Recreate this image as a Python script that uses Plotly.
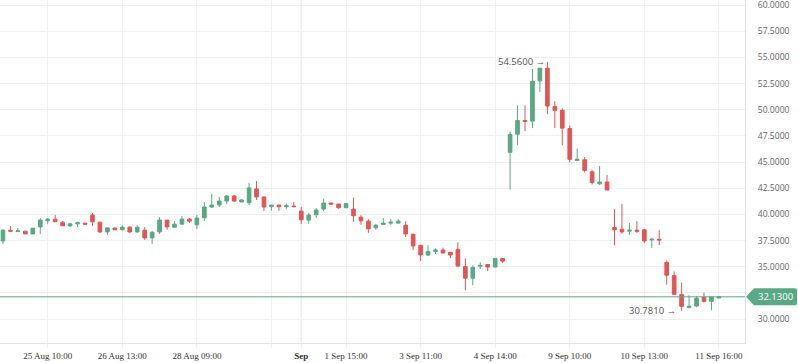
import plotly.graph_objects as go

opens = [37.47, 38.49, 38.37, 38.40, 38.14, 38.81, 39.39, 39.55, 39.26, 38.91,
         39.10, 39.17, 39.94, 39.26, 38.33, 38.69, 38.53, 38.78, 38.33, 38.49,
         37.76, 38.33, 39.46, 38.78, 39.07, 39.55, 39.01, 39.68, 40.71, 40.90,
         41.28, 41.76, 41.19, 41.12, 42.44, 41.67, 40.74, 40.90, 40.74, 40.80,
         40.32, 39.46, 39.97, 40.51, 41.09, 40.99, 40.64, 40.51, 39.74, 39.36,
         38.72, 39.04, 39.17, 39.17, 38.97, 38.11, 37.05, 36.12, 36.47, 36.60,
         36.38, 36.67, 35.03, 33.91, 35.06, 35.22, 34.97, 35.80, 45.93, 47.66,
         48.97, 48.91, 52.76, 53.97, 50.32, 49.94, 48.21, 45.16, 45.22, 44.07,
         42.92, 43.09, 38.75, 38.59, 38.40, 38.49, 38.53, 37.56, 37.63, 35.42,
         34.17, 32.34, 31.12, 31.25, 32.08, 31.70, 32.02]
highs = [38.59, 38.88, 38.69, 38.42, 38.69, 39.65, 39.65, 39.94, 39.36, 39.20,
         39.30, 39.17, 40.13, 39.26, 38.72, 38.78, 38.97, 38.88, 38.97, 38.78,
         38.40, 39.74, 39.46, 39.36, 39.84, 39.65, 39.94, 41.19, 41.96, 41.67,
         41.86, 41.86, 41.47, 43.01, 43.19, 41.70, 40.90, 40.90, 41.03, 41.19,
         40.71, 40.13, 40.61, 41.51, 41.09, 40.99, 41.09, 41.60, 39.94, 39.55,
         39.07, 39.65, 39.55, 39.55, 39.36, 38.11, 37.05, 37.05, 36.76, 36.83,
         36.38, 37.34, 35.80, 35.13, 35.42, 35.22, 35.80, 35.80, 47.92, 50.42,
         50.42, 53.88, 53.97, 54.56, 50.80, 50.13, 48.49, 46.28, 45.48, 44.26,
         44.62, 43.76, 40.51, 40.99, 39.17, 39.36, 38.62, 37.72, 38.49, 35.61,
         34.55, 33.49, 32.28, 32.21, 32.53, 32.12, 32.13]
lows = [37.18, 38.30, 38.33, 38.14, 38.14, 38.11, 39.10, 39.30, 38.91, 38.81,
        38.81, 39.01, 38.91, 38.24, 38.05, 38.53, 38.53, 38.24, 38.24, 37.56,
        37.18, 38.14, 38.53, 38.78, 39.07, 39.17, 38.59, 39.36, 40.61, 40.71,
        40.99, 41.19, 41.19, 40.90, 41.38, 40.32, 40.35, 40.35, 40.54, 40.74,
        39.10, 39.10, 39.68, 40.32, 40.90, 40.54, 40.64, 39.30, 39.01, 38.24,
        38.53, 39.04, 39.01, 39.13, 37.85, 36.60, 35.55, 36.03, 36.22, 36.31,
        35.83, 35.06, 32.76, 33.24, 34.78, 34.58, 34.97, 35.35, 42.37, 46.60,
        47.95, 48.24, 51.70, 49.58, 48.24, 46.60, 44.97, 45.10, 44.01, 42.85,
        42.81, 42.33, 37.08, 38.14, 38.05, 38.24, 37.28, 36.79, 37.08, 33.30,
        32.37, 30.781, 31.03, 31.15, 31.60, 30.85, 32.00]
closes = [38.49, 38.40, 38.43, 38.14, 38.69, 39.46, 39.55, 39.30, 38.91, 39.10,
          39.20, 39.07, 39.30, 38.33, 38.72, 38.53, 38.78, 38.33, 38.78, 37.76,
          38.30, 39.46, 38.81, 39.07, 39.55, 39.36, 39.65, 40.71, 40.90, 41.28,
          41.76, 41.28, 41.38, 42.53, 41.67, 40.71, 40.90, 40.74, 40.83, 40.74,
          39.49, 39.94, 40.42, 41.09, 40.99, 40.64, 41.03, 39.87, 39.39, 38.62,
          38.97, 39.17, 39.26, 39.36, 38.14, 36.99, 36.12, 36.47, 36.60, 36.31,
          36.12, 35.06, 33.91, 34.94, 35.13, 34.97, 35.80, 35.54, 47.63, 48.97,
          48.88, 52.72, 53.97, 50.35, 49.94, 48.24, 45.26, 45.26, 44.20, 43.05,
          43.09, 42.33, 38.53, 38.33, 38.49, 38.40, 37.47, 37.63, 37.56, 34.20,
          32.37, 31.22, 31.22, 31.99, 31.70, 32.12, 32.13]

tick_pos = [6, 16, 26, 36, 40, 46, 56, 66, 76, 86, 96]
tick_text = ["25 Aug 10:00", "26 Aug 13:00", "28 Aug 09:00", "", "<b>Sep</b>",
             "1 Sep 15:00", "3 Sep 11:00", "4 Sep 14:00", "9 Sep 10:00",
             "10 Sep 13:00", "11 Sep 16:00"]
y_ticks = [30, 32.5, 35, 37.5, 40, 42.5, 45, 47.5, 50, 52.5, 55, 57.5, 60]
y_text = ["30.0000", "", "35.0000", "37.5000", "40.0000", "42.5000", "45.0000",
          "47.5000", "50.0000", "52.5000", "55.0000", "57.5000", "60.0000"]
last_price = 32.13
hi_idx, hi_val = 73, 54.56
lo_idx, lo_val = 91, 30.781

UP = "#5aa884"
DOWN = "#e05656"
GRID = "#eef0f3"

x = list(range(len(opens)))

fig = go.Figure()
fig.add_trace(go.Candlestick(
    x=x, open=opens, high=highs, low=lows, close=closes,
    increasing=dict(line=dict(color=UP, width=1), fillcolor=UP),
    decreasing=dict(line=dict(color=DOWN, width=1), fillcolor=DOWN),
    whiskerwidth=0, showlegend=False, hoverinfo="skip",
))

fig.update_layout(
    width=798, height=363,
    margin=dict(l=0, r=53, t=0, b=20),
    paper_bgcolor="white", plot_bgcolor="white",
    xaxis=dict(
        range=[-0.4, 99.5], rangeslider=dict(visible=False),
        tickmode="array", tickvals=tick_pos, ticktext=tick_text,
        showgrid=True, gridcolor=GRID, gridwidth=1,
        showline=True, linecolor="#e3e5e8", linewidth=1,
        ticks="outside", ticklen=4, tickcolor=GRID,
        tickfont=dict(family="Liberation Serif", size=9, color="#333333"),
        zeroline=False, fixedrange=True,
    ),
    yaxis=dict(
        side="right", range=[27.72, 60.48],
        tickmode="array", tickvals=y_ticks, ticktext=y_text,
        showgrid=True, gridcolor=GRID, gridwidth=1,
        showline=True, linecolor="#e3e5e8", linewidth=1,
        ticks="", ticklabelstandoff=10, ticklabeloverflow="allow",
        tickfont=dict(family="Open Sans", size=8.6, color="#666666"),
        zeroline=False, fixedrange=True,
    ),
    shapes=[
        dict(type="line", xref="x", yref="paper", x0=40, x1=40, y0=0, y1=1,
             line=dict(color="#d6d9de", width=1), layer="below"),
        dict(type="line", xref="paper", yref="y", x0=0, x1=1,
             y0=last_price, y1=last_price, line=dict(color=UP, width=1)),
        dict(type="path", xref="paper", yref="y", xsizemode="pixel", ysizemode="pixel",
             xanchor=1, yanchor=last_price,
             path="M 1,0 L 9,8.5 L 50,8.5 Q 52,8.5 52,6.5 L 52,-6.5 Q 52,-8.5 50,-8.5 L 9,-8.5 Z",
             fillcolor=UP, line=dict(width=0), layer="above"),
    ],
    annotations=[
        dict(xref="paper", yref="y", x=1, y=last_price, xanchor="left", yanchor="middle",
             xshift=11, text="32.1300", showarrow=False,
             font=dict(family="Open Sans", size=9.5, color="white")),
        dict(xref="x", yref="y", x=hi_idx, y=hi_val, xanchor="right", yanchor="middle",
             xshift=0, text="54.5600 →", showarrow=False,
             font=dict(family="Open Sans", size=9.5, color="#555555")),
        dict(xref="x", yref="y", x=lo_idx, y=lo_val, xanchor="right", yanchor="middle",
             xshift=-4, text="30.7810 →", showarrow=False,
             font=dict(family="Open Sans", size=9.5, color="#555555")),
    ],
)

fig.write_html("out.html")
